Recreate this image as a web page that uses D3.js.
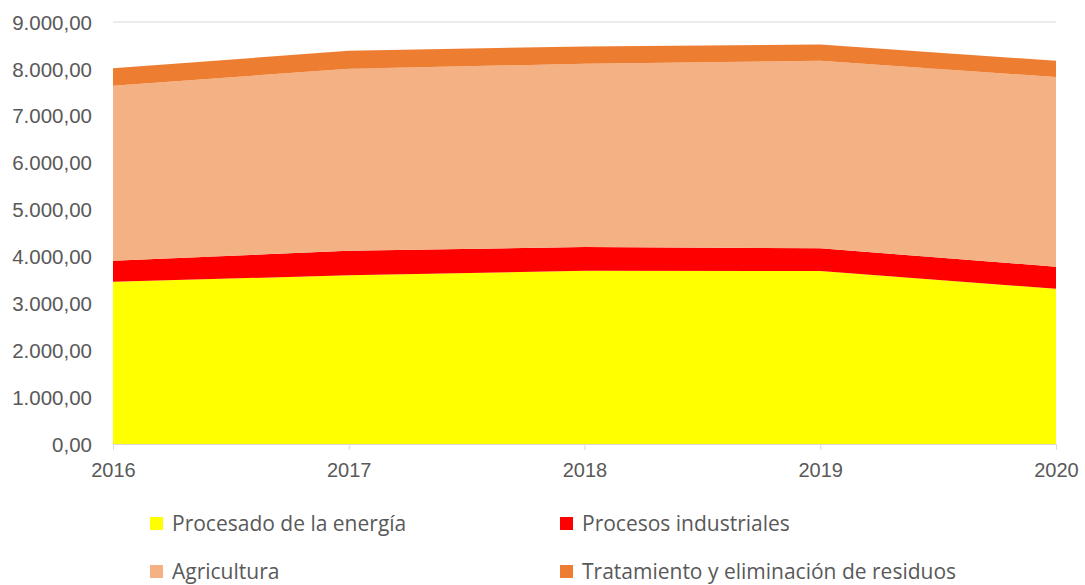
<!DOCTYPE html>
<html>
<head>
<meta charset="utf-8">
<script src="https://cdn.jsdelivr.net/npm/d3@7"></script>
<style>
  html, body { margin: 0; padding: 0; background: #fff; }
  svg { display: block; font-family: "Open Sans", "DejaVu Sans", sans-serif; }
  .tick text { fill: #595959; }
</style>
</head>
<body>
<svg id="chart" width="1085" height="585"></svg>
<script>
// Emisiones por sector (stacked), 2016-2020
const years = ["2016", "2017", "2018", "2019", "2020"];
const seriesNames = [
  "Procesado de la energía",
  "Procesos industriales",
  "Agricultura",
  "Tratamiento y eliminación de residuos"
];
const energia    = [3461, 3597, 3695, 3689, 3311];
const industria  = [447, 525, 505, 484, 470];
const agricultura = [3732, 3880, 3909, 4000, 4044];
const residuos   = [371, 384, 371, 349, 348];
const yTicks = [0, 1000, 2000, 3000, 4000, 5000, 6000, 7000, 8000, 9000];
const colors = ["#FFFF00", "#FF0000", "#F4B183", "#ED7D31"];

const rows = years.map((yr, i) => ({
  year: yr,
  s0: energia[i], s1: industria[i], s2: agricultura[i], s3: residuos[i]
}));

const svg = d3.select("#chart");
const plotLeft = 113, plotRight = 1056, plotTop = 22, plotBottom = 444;

const x = d3.scalePoint().domain(years).range([plotLeft, plotRight]);
const y = d3.scaleLinear().domain([0, 9000]).range([plotBottom, plotTop]);

const fmt = v => {
  const s = d3.format(",.2f")(v);
  return s.replace(/,/g, "#").replace(".", ",").replace(/#/g, ".");
};

// gridlines
svg.append("g")
  .selectAll("line")
  .data(yTicks.filter(d => d > 0))
  .join("line")
  .attr("x1", plotLeft).attr("x2", plotRight)
  .attr("y1", d => y(d)).attr("y2", d => y(d))
  .attr("stroke", "#D9D9D9").attr("stroke-width", 1);

// stacked areas
const stack = d3.stack().keys(["s0", "s1", "s2", "s3"]);
const layers = stack(rows);
const area = d3.area()
  .x(d => x(d.data.year))
  .y0(d => y(d[0]))
  .y1(d => y(d[1]));

svg.append("g")
  .selectAll("path")
  .data(layers)
  .join("path")
  .attr("d", area)
  .attr("fill", (d, i) => colors[i]);

// y axis (labels only)
const yAxis = svg.append("g")
  .attr("transform", `translate(${plotLeft},0)`)
  .call(d3.axisLeft(y).tickValues(yTicks).tickFormat(fmt).tickSize(0).tickPadding(21));
yAxis.select(".domain").remove();
yAxis.selectAll("text").attr("font-size", 20.5).attr("dy", "0.35em");

// x axis
const xAxis = svg.append("g")
  .attr("transform", `translate(0,${plotBottom})`)
  .call(d3.axisBottom(x).tickSizeInner(6).tickSizeOuter(0).tickPadding(13));
xAxis.select(".domain").attr("stroke", "#D9D9D9");
xAxis.selectAll(".tick line").attr("stroke", "#D9D9D9");
xAxis.selectAll("text").attr("font-size", 20);

// legend
const legendPos = [
  [150, 524], [560, 524], [150, 572], [560, 572]
];
const lg = svg.append("g")
  .selectAll("g")
  .data(seriesNames)
  .join("g")
  .attr("transform", (d, i) => `translate(${legendPos[i][0]},${legendPos[i][1]})`);
lg.append("rect")
  .attr("x", 0).attr("y", -7).attr("width", 13).attr("height", 13)
  .attr("fill", (d, i) => colors[i]);
lg.append("text")
  .attr("x", 22).attr("y", 0).attr("dy", "0.35em")
  .attr("font-size", 21).attr("fill", "#595959")
  .text(d => d);
</script>
</body>
</html>
